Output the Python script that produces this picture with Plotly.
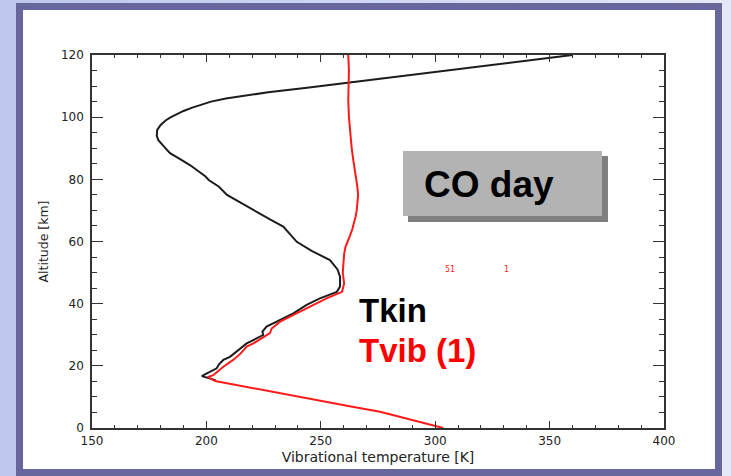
import plotly.graph_objects as go

# ---------------- data ----------------
alt_kin = [15.4, 16.7, 17.5, 19.2, 20.5, 21.9, 22.9, 25.0, 27.2, 28.3, 29.9, 31.0, 32.6, 34.2,
           36.9, 39.6, 41.7, 43.8, 45.5, 48.7, 51.0, 54.0, 57.0, 59.9, 62.5, 64.8, 67.0,
           69.6, 72.5, 75.0, 77.6, 79.8, 81.0, 84.6, 86.5, 88.4, 90.5, 92.6, 94.0, 95.9,
           97.5, 99.0, 100.0, 101.0, 102.0, 103.0, 104.0, 105.0, 106.0, 107.0, 108.0, 109.5,
           111.2, 114.0, 117.0, 120.0]
t_kin = [204.0, 198.0, 200.0, 204.5, 205.5, 207.4, 210.3, 214.0, 217.6, 220.5, 224.8, 224.5, 226.3, 230.7,
         238.0, 243.8, 249.6, 257.0, 258.4, 258.4, 257.3, 254.0, 246.0, 239.5, 236.5, 233.6, 228.0,
         222.0, 215.0, 209.0, 205.5, 201.0, 199.5, 192.8, 188.5, 184.1, 181.5, 179.0, 178.3, 178.5,
         180.0, 182.3, 184.5, 187.0, 190.0, 193.5, 197.5, 202.0, 208.5, 217.0, 227.0, 244.0,
         262.8, 293.6, 326.7, 360.0]

alt_vib = [0.0, 1.0, 2.0, 3.0, 4.0, 5.2, 7.0, 8.0, 9.0, 10.0, 11.0, 12.0, 13.0, 14.0,
           15.1, 16.0, 16.5, 17.0, 19.7, 21.9, 24.0, 26.2, 27.2, 30.5, 32.0, 34.2, 35.8, 39.0,
           41.7, 43.8, 46.5, 50.0, 54.0, 56.0, 58.3, 60.0, 62.0, 64.0, 66.0, 68.0, 70.0,
           72.5, 75.0, 77.5, 80.0, 83.0, 86.2, 90.0, 94.8, 100.0, 105.5, 110.0, 115.0, 120.0]
t_vib = [303.5, 298.0, 292.5, 287.0, 281.5, 275.9, 262.6, 255.3, 248.0, 240.7, 233.4, 226.1, 218.8, 211.5,
         203.8, 201.5, 201.0, 203.0, 207.4, 211.7, 215.0, 217.6, 220.5, 227.8, 228.5, 232.2, 236.5, 245.3,
         252.5, 259.3, 260.2, 259.6, 259.9, 260.2, 260.8, 261.8, 262.8, 263.8, 264.6, 265.2, 265.7,
         266.1, 266.3, 266.0, 265.4, 264.8, 264.2, 263.5, 262.8, 262.3, 262.0, 262.1, 262.3, 262.0]

x_ticks = [150, 200, 250, 300, 350, 400]
y_ticks = [0, 20, 40, 60, 80, 100, 120]

marker_labels = ["51", "1"]
marker_x = [306.6, 331.2]
marker_y = [51.0, 51.0]

# ---------------- layout geometry ----------------
W, H = 731, 476
L, R, T, B = 92, 664, 55, 428   # plot area in pixels


def px(xp):
    return (xp - L) / (R - L)


def py(yp):
    return (B - yp) / (B - T)


fig = go.Figure()

fig.add_trace(go.Scatter(x=t_kin, y=alt_kin, mode="lines", name="Tkin",
                         line=dict(color="#1c1c1c", width=2), showlegend=False))
fig.add_trace(go.Scatter(x=t_vib, y=alt_vib, mode="lines", name="Tvib (1)",
                         line=dict(color="#ff1a1a", width=2), showlegend=False))

shapes = []
# background gradient
n = 24
c0 = (190, 199, 238)
c1 = (228, 232, 248)
for i in range(n):
    f = i / (n - 1)
    c = tuple(int(c0[k] + (c1[k] - c0[k]) * f) for k in range(3))
    x0 = W * i / n
    x1 = W * (i + 1) / n + 1
    shapes.append(dict(type="rect", xref="paper", yref="paper", x0=px(x0), x1=px(x1),
                       y0=py(H + 2), y1=py(-2), line=dict(width=0),
                       fillcolor="rgb(%d,%d,%d)" % c, layer="below"))
# dark frame
shapes.append(dict(type="rect", xref="paper", yref="paper", x0=px(16), x1=px(722),
                   y0=py(480), y1=py(3), line=dict(width=0), fillcolor="#67679d", layer="below"))
# white panel
shapes.append(dict(type="rect", xref="paper", yref="paper", x0=px(23), x1=px(715),
                   y0=py(469), y1=py(10), line=dict(width=0), fillcolor="white", layer="below"))
# CO day box shadow + box
shapes.append(dict(type="rect", xref="paper", yref="paper", x0=px(408), x1=px(608),
                   y0=py(222), y1=py(156), line=dict(width=0), fillcolor="#7f7f7f", layer="above"))
shapes.append(dict(type="rect", xref="paper", yref="paper", x0=px(403), x1=px(602),
                   y0=py(216), y1=py(151), line=dict(width=0), fillcolor="#b3b3b3", layer="above"))

annotations = [
    dict(text="<b>CO day</b>", xref="paper", yref="paper", x=px(489), y=py(184),
         xanchor="center", yanchor="middle", showarrow=False,
         font=dict(family="Liberation Sans, Arial", size=37, color="black")),
    dict(text="<b>Tkin</b>", xref="paper", yref="paper", x=px(357), y=py(310),
         xanchor="left", yanchor="middle", showarrow=False,
         font=dict(family="Liberation Sans, Arial", size=33, color="black")),
    dict(text="<b>Tvib (1)</b>", xref="paper", yref="paper", x=px(357), y=py(350),
         xanchor="left", yanchor="middle", showarrow=False,
         font=dict(family="Liberation Sans, Arial", size=33, color="#ff0000")),
]
for lab, xv, yv in zip(marker_labels, marker_x, marker_y):
    annotations.append(dict(text=lab, x=xv, y=yv, xref="x", yref="y", showarrow=False,
                            xanchor="center", yanchor="middle",
                            font=dict(family="DejaVu Sans", size=8, color="#ff2020")))

axis_font = dict(family="DejaVu Sans", size=12, color="#222222")

fig.update_layout(
    width=W, height=H,
    margin=dict(l=L, r=W - R, t=T, b=H - B, pad=0),
    paper_bgcolor="#c8cff0",
    plot_bgcolor="rgba(0,0,0,0)",
    shapes=shapes,
    annotations=annotations,
    xaxis=dict(range=[150, 400], tickvals=x_ticks, ticktext=[str(v) for v in x_ticks],
               ticks="inside", ticklen=7.5, tickwidth=1.3, tickcolor="#333",
               minor=dict(dtick=10, ticks="inside", ticklen=3.7, tickwidth=1.2, tickcolor="#333"),
               showline=True, linecolor="#333", linewidth=1.5, mirror="allticks",
               showgrid=False, zeroline=False, tickfont=axis_font, ticklabelstandoff=1,
               title=dict(text="Vibrational temperature [K]", standoff=5,
                          font=dict(family="DejaVu Sans", size=14, color="#222222"))),
    yaxis=dict(range=[0, 120], tickvals=y_ticks, ticktext=[str(v) for v in y_ticks],
               ticks="inside", ticklen=11, tickwidth=1.3, tickcolor="#333",
               minor=dict(dtick=5, ticks="inside", ticklen=5.5, tickwidth=1.2, tickcolor="#333"),
               showline=True, linecolor="#333", linewidth=1.5, mirror="allticks",
               showgrid=False, zeroline=False, tickfont=axis_font, ticklabelstandoff=4,
               title=dict(text="Altitude [km]", standoff=10,
                          font=dict(family="DejaVu Sans", size=12.5, color="#222222"))),
)

fig.write_html("out.html")
